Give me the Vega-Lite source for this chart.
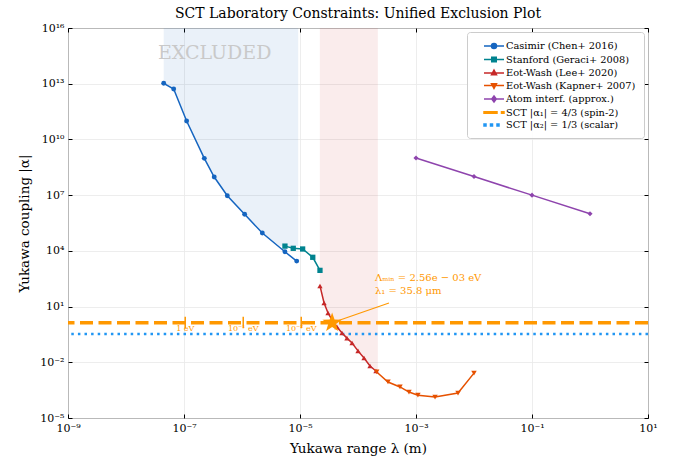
{
  "$schema": "https://vega.github.io/schema/vega-lite/v6.json",
  "width": 580,
  "height": 390,
  "padding": {"left": 17, "top": 7, "right": 10, "bottom": 10},
  "background": "white",
  "title": {"text": "SCT Laboratory Constraints: Unified Exclusion Plot", "font": "DejaVu Serif", "fontSize": 14, "fontWeight": "normal", "color": "black", "offset": 1},
  "config": {
    "view": {"stroke": "black", "strokeWidth": 1},
    "font": "DejaVu Serif",
    "axis": {"labelFont": "DejaVu Serif", "titleFont": "DejaVu Serif", "labelFontSize": 11, "titleFontSize": 13.5, "titleFontWeight": "normal", "labelColor": "black", "titleColor": "black", "gridColor": "#e9e9e9", "gridWidth": 0.8, "tickColor": "black", "domain": false, "labelPadding": 4, "labelFlush": false},
    "legend": {"labelFont": "DejaVu Serif", "labelFontSize": 9.8, "labelColor": "black", "orient": "top-right", "offset": 4, "padding": 8, "fillColor": "rgba(255,255,255,0.85)", "strokeColor": "#cccccc", "cornerRadius": 3, "symbolSize": 100, "symbolStrokeWidth": 1.5, "labelOffset": 19, "rowPadding": 1.5}
  },
  "datasets": {
    "main": [
      {"series": "Casimir (Chen+ 2016)", "lam": 4.47e-8, "alpha": 1.05e13},
      {"series": "Casimir (Chen+ 2016)", "lam": 6.64e-8, "alpha": 5.2e12},
      {"series": "Casimir (Chen+ 2016)", "lam": 1.11e-7, "alpha": 9.8e10},
      {"series": "Casimir (Chen+ 2016)", "lam": 2.24e-7, "alpha": 9.6e8},
      {"series": "Casimir (Chen+ 2016)", "lam": 3.32e-7, "alpha": 9.5e7},
      {"series": "Casimir (Chen+ 2016)", "lam": 5.58e-7, "alpha": 9.3e6},
      {"series": "Casimir (Chen+ 2016)", "lam": 1.11e-6, "alpha": 9.3e5},
      {"series": "Casimir (Chen+ 2016)", "lam": 2.24e-6, "alpha": 9.1e4},
      {"series": "Casimir (Chen+ 2016)", "lam": 5.5e-6, "alpha": 8.9e3},
      {"series": "Casimir (Chen+ 2016)", "lam": 8.77e-6, "alpha": 2.8e3},
      {"series": "Stanford (Geraci+ 2008)", "lam": 5.5e-6, "alpha": 1.8e4},
      {"series": "Stanford (Geraci+ 2008)", "lam": 7.65e-6, "alpha": 1.37e4},
      {"series": "Stanford (Geraci+ 2008)", "lam": 1.11e-5, "alpha": 1.26e4},
      {"series": "Stanford (Geraci+ 2008)", "lam": 1.66e-5, "alpha": 4.5e3},
      {"series": "Stanford (Geraci+ 2008)", "lam": 2.21e-5, "alpha": 890},
      {"series": "Eot-Wash (Lee+ 2020)", "lam": 2.21e-5, "alpha": 129},
      {"series": "Eot-Wash (Lee+ 2020)", "lam": 2.6e-5, "alpha": 15.6},
      {"series": "Eot-Wash (Lee+ 2020)", "lam": 3.04e-5, "alpha": 4.5},
      {"series": "Eot-Wash (Lee+ 2020)", "lam": 3.56e-5, "alpha": 1.9},
      {"series": "Eot-Wash (Lee+ 2020)", "lam": 4.35e-5, "alpha": 0.79},
      {"series": "Eot-Wash (Lee+ 2020)", "lam": 5.3e-5, "alpha": 0.38},
      {"series": "Eot-Wash (Lee+ 2020)", "lam": 6.45e-5, "alpha": 0.2},
      {"series": "Eot-Wash (Lee+ 2020)", "lam": 7.9e-5, "alpha": 0.11},
      {"series": "Eot-Wash (Lee+ 2020)", "lam": 1.0e-4, "alpha": 0.041},
      {"series": "Eot-Wash (Lee+ 2020)", "lam": 1.27e-4, "alpha": 0.017},
      {"series": "Eot-Wash (Lee+ 2020)", "lam": 1.61e-4, "alpha": 0.0063},
      {"series": "Eot-Wash (Lee+ 2020)", "lam": 2.04e-4, "alpha": 0.0034},
      {"series": "Eot-Wash (Kapner+ 2007)", "lam": 2.1e-4, "alpha": 0.003},
      {"series": "Eot-Wash (Kapner+ 2007)", "lam": 3.29e-4, "alpha": 0.00087},
      {"series": "Eot-Wash (Kapner+ 2007)", "lam": 5.3e-4, "alpha": 0.00047},
      {"series": "Eot-Wash (Kapner+ 2007)", "lam": 7.57e-4, "alpha": 0.00025},
      {"series": "Eot-Wash (Kapner+ 2007)", "lam": 1.08e-3, "alpha": 0.00017},
      {"series": "Eot-Wash (Kapner+ 2007)", "lam": 2.13e-3, "alpha": 0.000135},
      {"series": "Eot-Wash (Kapner+ 2007)", "lam": 5.3e-3, "alpha": 0.00022},
      {"series": "Eot-Wash (Kapner+ 2007)", "lam": 1.0e-2, "alpha": 0.0026},
      {"series": "Atom interf. (approx.)", "lam": 1.0e-3, "alpha": 1e9},
      {"series": "Atom interf. (approx.)", "lam": 1.0e-2, "alpha": 1e8},
      {"series": "Atom interf. (approx.)", "lam": 1.0e-1, "alpha": 1e7},
      {"series": "Atom interf. (approx.)", "lam": 1.0, "alpha": 1e6}
    ],
    "fill_blue": [
      {"lam": 4.47e-8, "alpha": 1.05e13},
      {"lam": 6.64e-8, "alpha": 5.2e12},
      {"lam": 1.11e-7, "alpha": 9.8e10},
      {"lam": 2.24e-7, "alpha": 9.6e8},
      {"lam": 3.32e-7, "alpha": 9.5e7},
      {"lam": 5.58e-7, "alpha": 9.3e6},
      {"lam": 1.11e-6, "alpha": 9.3e5},
      {"lam": 2.24e-6, "alpha": 9.1e4},
      {"lam": 4.5e-6, "alpha": 1.8e4},
      {"lam": 9.3e-6, "alpha": 1.8e4}
    ],
    "fill_red": [
      {"lam": 2.2e-5, "alpha": 129},
      {"lam": 2.6e-5, "alpha": 15.6},
      {"lam": 3.04e-5, "alpha": 4.5},
      {"lam": 3.56e-5, "alpha": 1.9},
      {"lam": 4.35e-5, "alpha": 0.79},
      {"lam": 5.3e-5, "alpha": 0.38},
      {"lam": 6.45e-5, "alpha": 0.2},
      {"lam": 7.9e-5, "alpha": 0.11},
      {"lam": 1.0e-4, "alpha": 0.041},
      {"lam": 1.27e-4, "alpha": 0.017},
      {"lam": 1.61e-4, "alpha": 0.0063},
      {"lam": 2.2e-4, "alpha": 0.003}
    ],
    "sct1": [{"series": "SCT |α₁| = 4/3 (spin-2)", "alpha": 1.3333}],
    "sct2": [{"series": "SCT |α₂| = 1/3 (scalar)", "alpha": 0.3333}],
    "evticks": [
      {"lam": 1.05e-7, "lo": 0.69, "hi": 2.8, "label": "1 eV"},
      {"lam": 1.05e-6, "lo": 0.69, "hi": 2.8, "label": "10⁻¹ eV"},
      {"lam": 1.05e-5, "lo": 0.69, "hi": 2.8, "label": "10⁻² eV"}
    ],
    "arrow": [
      {"lam": 3.42e-4, "alpha": 15.5},
      {"lam": 3.58e-5, "alpha": 1.3333}
    ],
    "star": [{"lam": 3.58e-5, "alpha": 1.3333}],
    "annot": [
      {"lam": 1.96e-4, "alpha": 346, "text": "Λₘᵢₙ = 2.56e − 03 eV"},
      {"lam": 1.96e-4, "alpha": 69, "text": "λ₁ = 35.8 μm"}
    ],
    "excluded": [{"lam": 3.38e-7, "alpha": 4.7e14, "text": "EXCLUDED"}]
  },
  "layer": [
    {
      "data": {"name": "fill_blue"},
      "mark": {"type": "area", "color": "#1565C0", "opacity": 0.09},
      "encoding": {
        "x": {"field": "lam", "type": "quantitative", "scale": {"type": "log", "domain": [1e-9, 10], "nice": false},
          "axis": {"orient": "bottom", "title": "Yukawa range λ (m)", "titlePadding": 8, "ticks": false, "values": [1e-9, 1e-7, 1e-5, 1e-3, 1e-1, 10], "grid": true,
            "labelExpr": "'10' + replace(replace(replace(replace(replace(replace(replace(replace(replace(replace(replace('' + round(log(datum.value)/LN10), regexp('-','g'), '⁻'), regexp('0','g'), '⁰'), regexp('1','g'), '¹'), regexp('2','g'), '²'), regexp('3','g'), '³'), regexp('4','g'), '⁴'), regexp('5','g'), '⁵'), regexp('6','g'), '⁶'), regexp('7','g'), '⁷'), regexp('8','g'), '⁸'), regexp('9','g'), '⁹')"}},
        "y": {"field": "alpha", "type": "quantitative", "scale": {"type": "log", "domain": [1e-5, 1e16], "nice": false},
          "axis": {"orient": "left", "title": "Yukawa coupling |α|", "titlePadding": 8, "ticks": false, "values": [1e-5, 1e-2, 10, 1e4, 1e7, 1e10, 1e13, 1e16], "grid": true,
            "labelExpr": "'10' + replace(replace(replace(replace(replace(replace(replace(replace(replace(replace(replace('' + round(log(datum.value)/LN10), regexp('-','g'), '⁻'), regexp('0','g'), '⁰'), regexp('1','g'), '¹'), regexp('2','g'), '²'), regexp('3','g'), '³'), regexp('4','g'), '⁴'), regexp('5','g'), '⁵'), regexp('6','g'), '⁶'), regexp('7','g'), '⁷'), regexp('8','g'), '⁸'), regexp('9','g'), '⁹')"}},
        "y2": {"datum": 1e16}
      }
    },
    {
      "data": {"name": "fill_red"},
      "mark": {"type": "area", "color": "#C62828", "opacity": 0.09},
      "encoding": {
        "x": {"field": "lam", "type": "quantitative", "axis": {"orient": "top", "labels": false, "grid": false, "title": null, "offset": -4, "tickSize": 4, "values": [1e-9, 1e-7, 1e-5, 1e-3, 1e-1, 10]}},
        "y": {"field": "alpha", "type": "quantitative", "axis": {"orient": "right", "labels": false, "grid": false, "title": null, "offset": -4, "tickSize": 4, "values": [1e-5, 1e-2, 10, 1e4, 1e7, 1e10, 1e13, 1e16]}},
        "y2": {"datum": 1e16}
      }
    },
    {
      "data": {"name": "sct1"},
      "mark": {"type": "rule", "strokeWidth": 3.5, "strokeDash": [13, 5.5]},
      "encoding": {
        "y": {"field": "alpha", "type": "quantitative", "axis": null},
        "color": {"field": "series", "type": "nominal", "scale": {"domain": ["Casimir (Chen+ 2016)", "Stanford (Geraci+ 2008)", "Eot-Wash (Lee+ 2020)", "Eot-Wash (Kapner+ 2007)", "Atom interf. (approx.)", "SCT |α₁| = 4/3 (spin-2)", "SCT |α₂| = 1/3 (scalar)"], "range": ["#1565C0", "#00838F", "#C62828", "#E65100", "#8E44AD", "#FF9800", "#2196F3"]}, "legend": {"title": null}}
      }
    },
    {
      "data": {"name": "sct2"},
      "mark": {"type": "rule", "strokeWidth": 2.5, "strokeDash": [2.5, 4.1]},
      "encoding": {
        "y": {"field": "alpha", "type": "quantitative", "axis": null},
        "color": {"field": "series", "type": "nominal", "scale": {"domain": ["Casimir (Chen+ 2016)", "Stanford (Geraci+ 2008)", "Eot-Wash (Lee+ 2020)", "Eot-Wash (Kapner+ 2007)", "Atom interf. (approx.)", "SCT |α₁| = 4/3 (spin-2)", "SCT |α₂| = 1/3 (scalar)"], "range": ["#1565C0", "#00838F", "#C62828", "#E65100", "#8E44AD", "#FF9800", "#2196F3"]}, "legend": {"title": null}}
      }
    },
    {
      "data": {"name": "main"},
      "mark": {"type": "line", "strokeWidth": 1.5},
      "encoding": {
        "x": {"field": "lam", "type": "quantitative", "axis": null},
        "y": {"field": "alpha", "type": "quantitative", "axis": null},
        "color": {"field": "series", "type": "nominal",
          "scale": {"domain": ["Casimir (Chen+ 2016)", "Stanford (Geraci+ 2008)", "Eot-Wash (Lee+ 2020)", "Eot-Wash (Kapner+ 2007)", "Atom interf. (approx.)", "SCT |α₁| = 4/3 (spin-2)", "SCT |α₂| = 1/3 (scalar)"], "range": ["#1565C0", "#00838F", "#C62828", "#E65100", "#8E44AD", "#FF9800", "#2196F3"]}, "legend": {"title": null}}
      }
    },
    {
      "data": {"name": "main"},
      "transform": [{"filter": "false"}],
      "mark": {"type": "point", "filled": true, "opacity": 1},
      "encoding": {
        "color": {"field": "series", "type": "nominal", "scale": {"domain": ["Casimir (Chen+ 2016)", "Stanford (Geraci+ 2008)", "Eot-Wash (Lee+ 2020)", "Eot-Wash (Kapner+ 2007)", "Atom interf. (approx.)", "SCT |α₁| = 4/3 (spin-2)", "SCT |α₂| = 1/3 (scalar)"], "range": ["#1565C0", "#00838F", "#C62828", "#E65100", "#8E44AD", "#FF9800", "#2196F3"]}, "legend": {"title": null}},
        "shape": {"field": "series", "type": "nominal", "legend": {"title": null}, "scale": {"domain": ["Casimir (Chen+ 2016)", "Stanford (Geraci+ 2008)", "Eot-Wash (Lee+ 2020)", "Eot-Wash (Kapner+ 2007)", "Atom interf. (approx.)", "SCT |α₁| = 4/3 (spin-2)", "SCT |α₂| = 1/3 (scalar)"],
          "range": [
            "M0.6,0H4.6M3.1,0A0.5,0.5,0,1,1,2.1,0A0.5,0.5,0,1,1,3.1,0Z",
            "M0.6,0H4.6M2.15,-0.45H3.05V0.45H2.15Z",
            "M0.6,0H4.6M2.6,-0.6L3.1,0.35L2.1,0.35Z",
            "M0.6,0H4.6M2.6,0.6L3.1,-0.35L2.1,-0.35Z",
            "M0.6,0H4.6M2.6,-0.6L3.05,0L2.6,0.6L2.15,0Z",
            "M0.6,-0.15H3.2V0.15H0.6ZM4.1,-0.15H4.6V0.15H4.1Z",
            "M0.6,-0.2H1.0V0.2H0.6ZM1.9,-0.2H2.3V0.2H1.9ZM3.2,-0.2H3.6V0.2H3.2Z"
          ]}}
      }
    },
    {
      "data": {"name": "main"},
      "transform": [{"filter": "datum.series === 'Casimir (Chen+ 2016)'"}],
      "mark": {"type": "point", "filled": true, "opacity": 1, "shape": "circle", "size": 24, "color": "#1565C0"},
      "encoding": {
        "x": {"field": "lam", "type": "quantitative", "axis": {"orient": "bottom", "labels": false, "grid": false, "title": null, "offset": -4, "tickSize": 4, "values": [1e-9, 1e-7, 1e-5, 1e-3, 1e-1, 10]}},
        "y": {"field": "alpha", "type": "quantitative", "axis": {"orient": "left", "labels": false, "grid": false, "title": null, "offset": -4, "tickSize": 4, "values": [1e-5, 1e-2, 10, 1e4, 1e7, 1e10, 1e13, 1e16]}}
      }
    },
    {
      "data": {"name": "main"},
      "transform": [{"filter": "datum.series === 'Stanford (Geraci+ 2008)'"}],
      "mark": {"type": "point", "filled": true, "opacity": 1, "shape": "square", "size": 28, "color": "#00838F"},
      "encoding": {
        "x": {"field": "lam", "type": "quantitative", "axis": null},
        "y": {"field": "alpha", "type": "quantitative", "axis": null}
      }
    },
    {
      "data": {"name": "main"},
      "transform": [{"filter": "datum.series === 'Eot-Wash (Lee+ 2020)'"}],
      "mark": {"type": "point", "filled": true, "opacity": 1, "shape": "triangle-up", "size": 28, "color": "#C62828"},
      "encoding": {
        "x": {"field": "lam", "type": "quantitative", "axis": null},
        "y": {"field": "alpha", "type": "quantitative", "axis": null}
      }
    },
    {
      "data": {"name": "main"},
      "transform": [{"filter": "datum.series === 'Eot-Wash (Kapner+ 2007)'"}],
      "mark": {"type": "point", "filled": true, "opacity": 1, "shape": "triangle-down", "size": 30, "color": "#E65100"},
      "encoding": {
        "x": {"field": "lam", "type": "quantitative", "axis": null},
        "y": {"field": "alpha", "type": "quantitative", "axis": null}
      }
    },
    {
      "data": {"name": "main"},
      "transform": [{"filter": "datum.series === 'Atom interf. (approx.)'"}],
      "mark": {"type": "point", "filled": true, "opacity": 1, "shape": "diamond", "size": 26, "color": "#8E44AD"},
      "encoding": {
        "x": {"field": "lam", "type": "quantitative", "axis": null},
        "y": {"field": "alpha", "type": "quantitative", "axis": null}
      }
    },
    {
      "data": {"name": "evticks"},
      "mark": {"type": "rule", "color": "#FF9800", "strokeWidth": 1.5},
      "encoding": {
        "x": {"field": "lam", "type": "quantitative", "axis": null},
        "y": {"field": "lo", "type": "quantitative", "axis": null},
        "y2": {"field": "hi"}
      }
    },
    {
      "data": {"name": "evticks"},
      "mark": {"type": "text", "color": "#FF9800", "font": "DejaVu Serif", "fontSize": 8, "baseline": "middle", "align": "center", "dy": 6},
      "encoding": {
        "x": {"field": "lam", "type": "quantitative", "axis": null},
        "y": {"datum": 1.3333, "type": "quantitative", "axis": null},
        "text": {"field": "label"}
      }
    },
    {
      "data": {"name": "arrow"},
      "mark": {"type": "line", "color": "#FF9800", "strokeWidth": 1.1},
      "encoding": {
        "x": {"field": "lam", "type": "quantitative", "axis": null},
        "y": {"field": "alpha", "type": "quantitative", "axis": null}
      }
    },
    {
      "data": {"name": "star"},
      "mark": {"type": "point", "filled": true, "color": "#FF9800", "opacity": 1, "size": 420, "shape": "M0,-1L0.235,-0.324L0.951,-0.309L0.38,0.124L0.588,0.809L0,0.4L-0.588,0.809L-0.38,0.124L-0.951,-0.309L-0.235,-0.324Z"},
      "encoding": {
        "x": {"field": "lam", "type": "quantitative", "axis": null},
        "y": {"field": "alpha", "type": "quantitative", "axis": null}
      }
    },
    {
      "data": {"name": "annot"},
      "mark": {"type": "text", "color": "#FF9800", "font": "DejaVu Serif", "fontSize": 10, "align": "left", "baseline": "middle"},
      "encoding": {
        "x": {"field": "lam", "type": "quantitative", "axis": null},
        "y": {"field": "alpha", "type": "quantitative", "axis": null},
        "text": {"field": "text"}
      }
    },
    {
      "data": {"name": "excluded"},
      "mark": {"type": "text", "color": "#c9c9c9", "font": "DejaVu Serif", "fontSize": 19, "align": "center", "baseline": "middle"},
      "encoding": {
        "x": {"field": "lam", "type": "quantitative", "axis": null},
        "y": {"field": "alpha", "type": "quantitative", "axis": null},
        "text": {"field": "text"}
      }
    }
  ],
  "resolve": {"axis": {"x": "independent", "y": "independent"}}
}
